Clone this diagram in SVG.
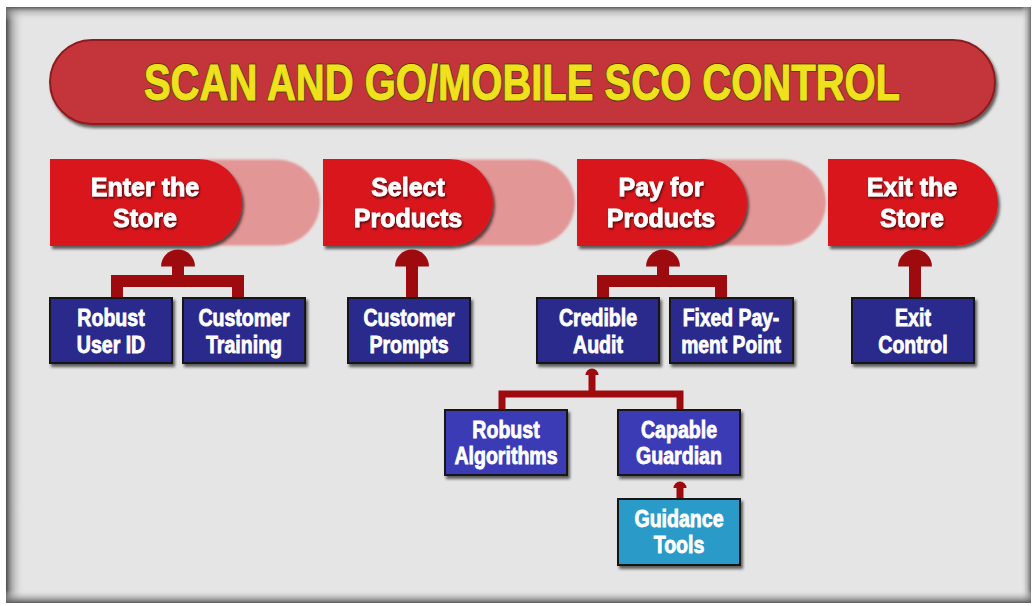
<svg xmlns="http://www.w3.org/2000/svg" width="1035" height="606" viewBox="0 0 1035 606">
<style>
.stage{fill:#d8161c}
.ghost{fill:#e39696}
.bx{stroke:#141414;stroke-width:2}
.navy{fill:#2c2a8c}
.blue{fill:#3b3bb6}
.teal{fill:#2b9bc8}
.st{font-family:"Liberation Sans",Arial,sans-serif;font-weight:bold;font-size:25px;fill:#fff;stroke:#fff;stroke-width:0.8;text-anchor:middle}
.bt{font-family:"Liberation Sans",Arial,sans-serif;font-weight:bold;font-size:23px;fill:#fff;stroke:#fff;stroke-width:0.8;text-anchor:middle}
.conn{fill:none;stroke:#9e0b0e;stroke-linejoin:miter}
.dome{fill:#9e0b0e}
.tt{font-family:"Liberation Sans",Arial,sans-serif;font-weight:bold;font-size:50px;text-anchor:middle}
</style>
<defs>
<filter id="shadow" x="-10%" y="-10%" width="130%" height="140%">
<feDropShadow dx="2" dy="3" stdDeviation="1.8" flood-color="#000" flood-opacity="0.6"/>
</filter>
<filter id="tshadow" x="-10%" y="-20%" width="130%" height="150%">
<feDropShadow dx="1" dy="1.5" stdDeviation="0.8" flood-color="#000" flood-opacity="0.7"/>
</filter>
<filter id="soft" x="-10%" y="-10%" width="120%" height="130%">
<feGaussianBlur stdDeviation="1"/>
</filter>
<linearGradient id="gl" x1="0" y1="0" x2="1" y2="0"><stop offset="0" stop-color="#4a4a4a"/><stop offset="0.35" stop-color="#8a8a8a" stop-opacity="0.6"/><stop offset="1" stop-color="#e5e5e5" stop-opacity="0"/></linearGradient>
<linearGradient id="gr" x1="1" y1="0" x2="0" y2="0"><stop offset="0" stop-color="#6a6a6a"/><stop offset="1" stop-color="#e5e5e5" stop-opacity="0"/></linearGradient>
<linearGradient id="gt" x1="0" y1="0" x2="0" y2="1"><stop offset="0" stop-color="#5a5a5a"/><stop offset="0.35" stop-color="#9a9a9a" stop-opacity="0.5"/><stop offset="1" stop-color="#e5e5e5" stop-opacity="0"/></linearGradient>
<linearGradient id="gb" x1="0" y1="1" x2="0" y2="0"><stop offset="0" stop-color="#5a5a5a"/><stop offset="1" stop-color="#e5e5e5" stop-opacity="0"/></linearGradient>
</defs>

<g id="frame">
<rect x="0" y="0" width="1035" height="606" fill="#ffffff"/>
<rect x="6" y="7" width="1025" height="596" fill="#e5e5e5"/>
<rect x="6" y="7" width="18" height="596" fill="url(#gl)"/>
<rect x="6" y="7" width="1025" height="14" fill="url(#gt)"/>
<rect x="1021" y="7" width="10" height="596" fill="url(#gr)"/>
<rect x="6" y="590" width="1025" height="13" fill="url(#gb)"/>
</g>

<g id="title">
<rect x="50" y="40" width="945" height="84" rx="42" ry="42" fill="#c4363a" stroke="#8c1c1e" stroke-width="2" filter="url(#shadow)"/>
<text class="tt" transform="translate(522 0) scale(0.8 1)" x="0" y="100" fill="none" stroke="#5a3a10" stroke-width="3" stroke-linejoin="round">SCAN AND GO/MOBILE SCO CONTROL</text>
<text class="tt" transform="translate(522 0) scale(0.8 1)" x="0" y="100" fill="#efe21c" stroke="#efe21c" stroke-width="1">SCAN AND GO/MOBILE SCO CONTROL</text>
</g>

<g id="ghosts" filter="url(#soft)">
<path class="ghost" d="M200 159.5 H277 A43 43 0 0 1 277 245.5 H200 Z"/>
<path class="ghost" d="M450 159.5 H532 A43 43 0 0 1 532 245.5 H450 Z"/>
<path class="ghost" d="M700 159.5 H783 A43 43 0 0 1 783 245.5 H700 Z"/>
</g>

<g id="stage-enter">
<path class="stage" filter="url(#shadow)" d="M50 159 H198.5 A43.5 43.5 0 0 1 198.5 246 H50 Z"/>
<text class="st" filter="url(#tshadow)"><tspan x="145" y="196">Enter the</tspan><tspan x="145" y="227">Store</tspan></text>
</g>
<g id="stage-select">
<path class="stage" filter="url(#shadow)" d="M323 159 H449.5 A43.5 43.5 0 0 1 449.5 246 H323 Z"/>
<text class="st" filter="url(#tshadow)"><tspan x="408" y="196">Select</tspan><tspan x="408" y="227">Products</tspan></text>
</g>
<g id="stage-pay">
<path class="stage" filter="url(#shadow)" d="M577 159 H703.5 A43.5 43.5 0 0 1 703.5 246 H577 Z"/>
<text class="st" filter="url(#tshadow)"><tspan x="661" y="196">Pay for</tspan><tspan x="661" y="227">Products</tspan></text>
</g>
<g id="stage-exit">
<path class="stage" filter="url(#shadow)" d="M828 159 H954.5 A43.5 43.5 0 0 1 954.5 246 H828 Z"/>
<text class="st" filter="url(#tshadow)"><tspan x="912" y="196">Exit the</tspan><tspan x="912" y="227">Store</tspan></text>
</g>

<g id="connectors">
<path class="dome" d="M161 266.5 A17 17 0 0 1 195 266.5 Z"/>
<path class="conn" stroke-width="12" d="M178 266 V281"/>
<path class="conn" stroke-width="12" d="M117 298 V281 H238 V298"/>
<path class="dome" d="M395 266.5 A17 17 0 0 1 429 266.5 Z"/>
<path class="conn" stroke-width="12" d="M412 266 V298"/>
<path class="dome" d="M646 266.5 A17 17 0 0 1 680 266.5 Z"/>
<path class="conn" stroke-width="12" d="M663 266 V281"/>
<path class="conn" stroke-width="12" d="M603 298 V281 H721 V298"/>
<path class="dome" d="M898 266.5 A17 17 0 0 1 932 266.5 Z"/>
<path class="conn" stroke-width="12" d="M915 266 V298"/>
<path class="dome" d="M585.5 375 A6.5 6.5 0 0 1 598.5 375 Z"/>
<path class="conn" stroke-width="7" d="M592 374 V394"/>
<path class="conn" stroke-width="7" d="M502 410 V394 H680 V410"/>
<path class="dome" d="M673.5 488 A6.5 6.5 0 0 1 686.5 488 Z"/>
<path class="conn" stroke-width="7" d="M680 487 V499"/>
</g>

<g id="box-robust-user-id">
<rect class="bx navy" x="50" y="298" width="122" height="65" filter="url(#shadow)"/>
<text class="bt" transform="translate(111 0) scale(0.85 1)"><tspan x="0" y="326">Robust</tspan><tspan x="0" y="353">User ID</tspan></text>
</g>
<g id="box-customer-training">
<rect class="bx navy" x="183" y="298" width="122" height="65" filter="url(#shadow)"/>
<text class="bt" transform="translate(244 0) scale(0.85 1)"><tspan x="0" y="326">Customer</tspan><tspan x="0" y="353">Training</tspan></text>
</g>
<g id="box-customer-prompts">
<rect class="bx navy" x="348" y="298" width="122" height="65" filter="url(#shadow)"/>
<text class="bt" transform="translate(409 0) scale(0.85 1)"><tspan x="0" y="326">Customer</tspan><tspan x="0" y="353">Prompts</tspan></text>
</g>
<g id="box-credible-audit">
<rect class="bx navy" x="537" y="298" width="122" height="65" filter="url(#shadow)"/>
<text class="bt" transform="translate(598 0) scale(0.85 1)"><tspan x="0" y="326">Credible</tspan><tspan x="0" y="353">Audit</tspan></text>
</g>
<g id="box-fixed-payment-point">
<rect class="bx navy" x="670" y="298" width="123" height="65" filter="url(#shadow)"/>
<text class="bt" transform="translate(731 0) scale(0.84 1)"><tspan x="0" y="326">Fixed Pay-</tspan><tspan x="0" y="353">ment Point</tspan></text>
</g>
<g id="box-exit-control">
<rect class="bx navy" x="852" y="298" width="122" height="65" filter="url(#shadow)"/>
<text class="bt" transform="translate(913 0) scale(0.85 1)"><tspan x="0" y="326">Exit</tspan><tspan x="0" y="353">Control</tspan></text>
</g>
<g id="box-robust-algorithms">
<rect class="bx blue" x="445" y="410" width="122" height="65" filter="url(#shadow)"/>
<text class="bt" transform="translate(506 0) scale(0.85 1)"><tspan x="0" y="438">Robust</tspan><tspan x="0" y="464">Algorithms</tspan></text>
</g>
<g id="box-capable-guardian">
<rect class="bx blue" x="618" y="410" width="122" height="65" filter="url(#shadow)"/>
<text class="bt" transform="translate(679 0) scale(0.85 1)"><tspan x="0" y="438">Capable</tspan><tspan x="0" y="464">Guardian</tspan></text>
</g>
<g id="box-guidance-tools">
<rect class="bx teal" x="618" y="499" width="122" height="66" filter="url(#shadow)"/>
<text class="bt" transform="translate(679 0) scale(0.85 1)"><tspan x="0" y="527">Guidance</tspan><tspan x="0" y="553">Tools</tspan></text>
</g>
</svg>
